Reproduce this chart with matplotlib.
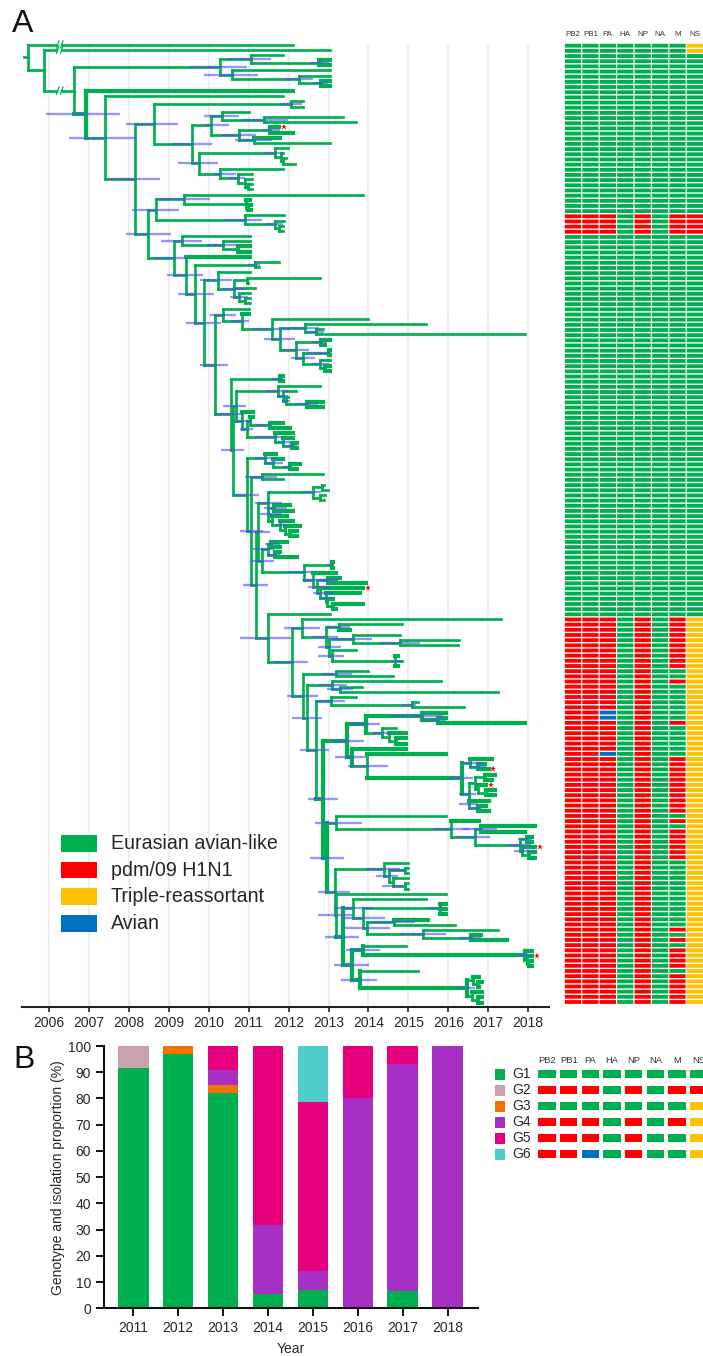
import matplotlib
matplotlib.use("Agg")
import matplotlib.pyplot as plt
from matplotlib.patches import Rectangle

plt.rcParams["font.family"] = ["Liberation Sans", "DejaVu Sans"]

W, H = 703, 1356
GREEN = "#00b050"
RED = "#ff0000"
YELLOW = "#ffc000"
BLUE = "#0070c0"
TEXT = "#262626"

# tree: node = [time, ci_low, ci_high, child, child...], leaf = tip time
N = None


def b(n):  # thick branch
    return {"n": n, "thick": True}


def s(n):  # thick tip with a star
    return {"n": n, "thick": True, "star": True}


c_early = [2010.28, 2009.53, 2010.97,
           [2011.05, 2010.47, 2011.56, 2011.85,
            [2012.77, 2012.53, 2013.02, b(2013.03), b(2013.03)]],
           [2010.58, 2009.89, 2011.23, 2013.03,
            [2012.26, 2011.88, 2012.62, 2013.03,
             [2012.80, 2012.62, 2012.99, b(2013.03), b(2013.03)]]]]

c_632 = [2010.05, 2009.89, 2010.5,
         [2010.33, 2009.88, 2010.77, 2011.01,
          [2011.39, 2010.84, 2011.99, 2013.37, 2013.69]],
         [2010.76, 2010.33, 2011.18,
          [2011.53, 2011.37, 2011.78, s(2011.77), b(2012.12)],
          [2011.13, 2010.66, 2011.58, b(2011.78), 2013.03]]]

c_597 = [2009.76, 2009.23, 2010.22,
         [2011.66, 2011.39, 2011.87, 2011.98,
          [2011.81, N, N, 2011.87, [2011.87, N, N, 2011.93, 2012.16]]],
         [2010.27, 2010.12, 2010.68, 2011.87,
          [2010.74, 2010.49, 2010.91, 2011.09,
           [2010.91, N, N, 2011.08, [2010.99, N, N, 2011.09, 2011.09]]]]]

c_460 = [2008.62, 2007.93, 2009.24,
         [2012.07, 2011.78, 2012.33, 2012.37, 2012.37],
         [2009.59, 2009.08, 2010.08, c_632, c_597]]

c_467 = [2008.68, 2008.09, 2009.25,
         [2009.37, 2008.74, 2010.02, 2013.87,
          [2010.93, N, N, b(2011.03), [2010.98, N, N, b(2011.05), b(2011.05)]]],
         [2010.91, 2010.38, 2011.34, 2011.89,
          [2011.66, 2011.43, 2011.87, 2011.89,
           [2011.77, N, N, 2011.87, 2011.87]]]]

c_652 = [2010.22, 2009.77, 2010.59, 2011.03,
         [2010.64, 2010.33, 2010.95,
          [2010.95, N, N, 2012.78, 2010.99],
          2011.17,
          [2010.77, 2010.53, 2010.99, 2011.03,
           [2010.91, N, N, 2011.03, 2011.03]]]]

c_z9 = [2010.36, 2010.04, 2010.69, 2011.0,
        [2010.83, 2010.53, 2011.0, b(2011.0),
         [2011.58, 2011.08, 2012.04, 2014.0,
          [2011.78, 2011.38, 2012.15,
           [2012.4, 2012.0, 2012.75, 2015.43,
            [2012.69, 2012.46, 2012.88, 2012.86, 2017.92]],
           [2012.18, 2011.83, 2012.5,
            [2012.82, 2012.58, 2012.96, b(2013.03), b(2012.92)],
            [2012.36, 2012.06, 2012.67,
             [2013.0, 2012.46, 2013.0, b(2013.04), b(2013.04)],
             [2012.79, 2012.58, 2013.0, 2013.03,
              [2012.92, N, N, b(2013.04), b(2013.04)]]]]]]]]

c_F = [2011.74, 2011.43, 2011.99, 2012.78,
       [2011.85, 2011.72, 2011.99, 2012.18,
        [2011.93, 2011.83, 2012.03, 2011.99,
         [2012.45, 2012.16, 2012.74, b(2012.85), b(2012.85)]]]]

c_G = [2010.83, 2010.58, 2011.09, b(2011.12),
       [2010.95, 2010.78, 2011.12,
        [2011.03, N, N, b(2011.12),
         [2011.53, 2011.16, 2011.58, b(2011.87), b(2012.03)]],
        [2011.66, 2011.16, 2011.87, b(2012.12),
         [2011.87, 2011.72, 2012.03, b(2012.12),
          [2012.08, 2011.91, 2012.2, b(2012.2), b(2012.2)]]]]]

c_L = [2011.41, 2011.16, 2011.7, b(2011.68),
       [2011.62, 2011.41, 2011.85, b(2011.87),
        [2012.03, 2011.85, 2012.03, b(2012.28), b(2012.2)]]]

c_T = [2011.49, 2011.16, 2011.83,
       [2012.62, 2012.35, 2012.8,
        [2012.83, N, N, 2012.88, 2012.99],
        [2012.78, N, N, 2012.91, 2012.89]],
       [2011.49, 2011.28, 2011.83,
        [2011.63, 2011.38, 2011.95, b(2012.03), b(2012.12)],
        [2011.58, N, N, b(2011.95),
         [2011.78, 2011.66, 2011.95, b(2012.12),
          [2011.91, N, N, b(2012.28),
           [2012.03, N, N, b(2012.2), b(2012.2)]]]]]]

c_U = [2011.33, 2011.03, 2011.63,
       [2011.49, 2011.12, 2011.63,
        [2011.55, 2011.41, 2011.78, b(2011.95), b(2011.78)],
        [2011.66, 2011.45, 2011.78, b(2011.78), b(2012.2)]],
       [2012.38, 2011.97, 2012.62,
        [2013.08, 2012.95, 2013.12, b(2013.12), b(2013.12)],
        [2012.62, 2012.33, 2013.24, b(2013.2),
         [2012.7, 2012.49, 2013.03,
          [2012.99, 2012.78, 2013.24, b(2013.28), b(2013.95)],
          [2012.78, 2012.62, 2013.12, s(2013.87),
           [2012.93, 2012.78, 2013.12, b(2013.78),
            [2012.97, N, N, b(2013.12),
             [2013.1, N, N, b(2013.87), b(2013.2)]]]]]]]]

c_305 = [2012.33, 2011.88, 2012.78, 2017.33,
         [2012.93, 2012.58, 2013.24,
          [2013.27, 2012.95, 2013.53, 2014.85, b(2013.53)],
          [2013.02, 2012.73, 2013.32,
           [2013.62, 2013.08, 2014.08, 2014.78,
            [2014.78, 2014.28, 2015.28, 2016.28, 2016.24]],
           [2013.08, 2012.73, 2013.38, 2013.7,
            [2014.67, 2014.55, 2014.85, b(2014.73), 2014.85, b(2014.73)]]]]]

c_407 = b([2013.93, 2013.53, 2014.28,
           b([2015.35, 2014.59, 2015.87, b(2015.93),
              b([2015.74, 2015.35, 2015.93, b(2015.93), b(2017.93)])]),
           [2014.35, 2014.12, 2014.62, 2014.7,
            [2014.52, N, N, b(2014.93),
             [2014.68, N, N, b(2014.93), b(2014.93)]]]])

c_698 = b([2016.35, 2016.03, 2016.63,
           [2016.55, 2016.35, 2016.87, b(2017.1),
            [2016.74, 2016.53, 2016.95, b(2016.93), s(2017.02)]],
           [2016.52, 2016.28, 2016.7,
            [2016.66, N, N,
             [2016.91, N, N, b(2017.18), b(2017.1)],
             [2016.74, N, N, s(2016.95),
              [2016.95, N, N, b(2017.18), b(2017.18)]]],
            [2016.53, 2016.28, 2016.74, b(2017.02),
             [2016.74, 2016.53, 2016.85, b(2016.95), b(2017.02)]]]])

c_352 = b([2013.47, 2013.03, 2013.89, c_407,
           b([2013.6, 2013.16, 2013.95, b(2014.93),
              [2013.97, 2013.49, 2014.49, b(2015.95), c_698]])])

c_318 = [2013.18, 2012.67, 2013.83, 2015.95,
         [2016.08, 2015.62, 2016.53, b(2016.78),
          [2016.66, 2016.2, 2017.05,
           [2016.83, 2016.37, 2017.22, b(2018.18), b(2017.93)],
           [2017.8, 2017.49, 2018.08,
            [2017.97, 2017.75, 2018.1, b(2018.1), b(2018.1)],
            [2017.85, 2017.64, 2018.16, s(2018.18),
             [2018.03, N, N, b(2018.18), b(2018.18)]]]]]]

c_462 = [2014.38, 2013.95, 2014.78, 2014.98,
         [2014.52, 2014.18, 2014.74,
          [2014.91, 2014.49, 2014.91, 2014.98, 2014.98],
          [2014.62, N, N, 2014.98,
           [2014.91, 2014.33, 2014.87, 2014.98, 2014.98]]]]

c_370 = [2013.62, 2013.13, 2014.13, 2015.45,
         [2013.87, 2013.31, 2014.41,
          [2015.78, 2015.5, 2015.87, b(2015.93),
           [2015.8, N, N, b(2015.93), b(2015.93)]],
          [2013.97, 2013.41, 2014.55,
           [2014.63, 2014.06, 2015.16, b(2015.49), 2016.16],
           [2015.37, 2014.78, 2015.95, 2017.24,
            [2016.58, 2016.28, 2016.83, b(2016.83), b(2017.48)]]]]]

c_365 = b([2013.58, 2013.13, 2014.01,
           b([2013.87, 2013.43, 2014.3, 2014.93,
              b([2017.93, 2017.74, 2018.12, b(2018.1),
                 [2017.97, N, N, s(2018.1),
                  [2018.03, N, N, b(2018.1), b(2018.1)]]])]),
           b([2013.78, 2013.31, 2014.22, 2015.24,
              b([2016.47, 2016.24, 2016.68,
                 [2016.62, N, N, b(2016.77),
                  [2016.74, N, N, b(2016.85), b(2016.77)]],
                 [2016.6, N, N, b(2016.85),
                  [2016.74, N, N, b(2016.85), b(2016.85)]]])])])

c_340 = b([2013.37, 2012.91, 2013.77, c_370, c_365])

c_292 = b([2012.97, 2012.53, 2013.38, c_318,
           [2013.16, 2012.73, 2013.53, c_462,
            [2013.18, 2012.74, 2013.58, 2015.95, c_340]]])

c_Z = [2012.35, 2011.95, 2012.74,
       [2013.2, 2012.8, 2013.6, 2013.98, 2014.62],
       [2012.47, 2012.08, 2012.83,
        [2013.08, 2012.74, 2013.47, 2015.81,
         [2013.28, 2012.97, 2013.62, 2013.84, 2017.24]],
        [2012.68, 2012.28, 2013.02,
         [2013.05, 2012.66, 2013.41, 2013.7,
          [2015.08, 2014.83, 2015.2, 2015.23, 2016.39]],
         b([2012.85, 2012.48, 2013.24, c_352, c_292])]]]

c_X = [2011.49, 2010.78, 2012.05, 2013.03,
       [2012.08, 2011.63, 2012.49, c_305, c_Z]]

c_E = [2010.95, 2010.64, 2011.26, c_L,
       [2011.05, 2010.78, 2011.37,
        [2011.33, 2010.91, 2011.7, 2012.85, 2011.87],
        [2011.18, 2010.87, 2011.49,
         [2011.24, 2010.95, 2011.53, c_T, c_U],
         c_X]]]

c_A = [2010.55, 2010.16, 2010.87,
       [2011.78, 2011.58, 2011.87, b(2011.87), b(2011.87)],
       [2010.62, 2010.3, 2010.89,
        [2010.68, 2010.35, 2010.93, c_F, c_G],
        c_E]]

c_585 = [2009.66, 2009.23, 2010.14,
         [2011.16, 2010.98, 2011.28, 2011.77, 2011.27],
         [2009.87, 2009.42, 2010.3, c_652,
          [2010.16, 2009.78, 2010.49, c_z9, c_A]]]

c_520 = [2009.12, 2008.6, 2009.49,
         [2009.33, 2008.81, 2009.84, 2011.03,
          [2010.37, 2009.95, 2010.74, 2011.03,
           [2010.74, N, N, b(2011.03), b(2011.03)]]],
         [2009.43, 2008.95, 2009.85, b(2011.03), c_585]]

tree = [2005.47, N, N, 2012.12,
        [2005.87, N, N, 2013.03,
         [2006.62, N, N, c_early,
          b([2006.93, 2005.93, 2007.78, b(2012.12),
             [2007.39, 2006.51, 2008.2, 2011.85,
              [2008.16, 2007.49, 2008.77, c_460,
               [2008.49, 2007.93, 2009.06, c_467, c_520]]]])]]]

years_a = list(range(2006, 2019))
break_time = 2006.27
break_rows = [0, 1, 8.9]

# segments, top heat map
segments = ["PB2", "PB1", "PA", "HA", "NP", "NA", "M", "NS"]
n_rows = 186
pdm_block_1 = [33, 34, 35, 36]
pdm_block_2 = list(range(111, 186))
ns_triple_top = [0, 1]
m_avian_like = [121, 122, 124, 125, 126, 127, 128, 129, 130, 132, 133, 134, 135,
                136, 137, 149, 151, 158, 159, 160, 161, 162, 163, 164, 165, 166,
                167, 168, 169, 170, 172, 174, 179]
pa_avian = [129, 130, 137]

# panel B
bar_years = [2011, 2012, 2013, 2014, 2015, 2016, 2017, 2018]
genotypes = ["G1", "G2", "G3", "G4", "G5", "G6"]
g1 = [91.7, 97.0, 82.0, 5.3, 7.1, 0, 6.7, 0]
g2 = [8.3, 0, 0, 0, 0, 0, 0, 0]
g3 = [0, 3.0, 3.0, 0, 0, 0, 0, 0]
g4 = [0, 0, 6.0, 26.3, 7.2, 80.0, 86.6, 100.0]
g5 = [0, 0, 9.0, 68.4, 64.2, 20.0, 6.7, 0]
g6 = [0, 0, 0, 0, 21.4, 0, 0, 0]
g_colors = ["#00b050", "#c9a3ab", "#f57200", "#a82fc4", "#e6007e", "#50cccc"]

gen_table = [
    "GGGGGGGG",
    "RRRGRGRR",
    "GGGGGGGY",
    "RRRGRGRY",
    "RRRGRGGY",
    "RRBGRGGY",
]
seg_colors = {"G": GREEN, "R": RED, "Y": YELLOW, "B": BLUE}

legend_names = ["Eurasian avian-like", "pdm/09 H1N1", "Triple-reassortant", "Avian"]
legend_colors = [GREEN, RED, YELLOW, BLUE]

fig = plt.figure(figsize=(W / 100, H / 100), dpi=100)


def px_axes(x0, y0, x1, y1):
    return fig.add_axes([x0 / W, 1 - y1 / H, (x1 - x0) / W, (y1 - y0) / H])


# ---- layout of the tree
thin_h, thin_v, thick_h, thick_v, cis, stars = [], [], [], [], [], []
tip_count = [0]


def layout(node, parent_t):
    thick = False
    star = False
    if isinstance(node, dict):
        thick = node["thick"]
        star = node.get("star", False)
        node = node["n"]
    hs = thick_h if thick else thin_h
    vs = thick_v if thick else thin_v
    if not isinstance(node, list):
        y = tip_count[0]
        tip_count[0] += 1
        hs.append((y, parent_t, node))
        if star:
            stars.append((node + 0.11, y))
        return y
    t, lo, hi = node[:3]
    ys = [layout(k, t) for k in node[3:]]
    y = (ys[0] + ys[-1]) / 2
    vs.append((t, ys[0], ys[-1]))
    hs.append((y, parent_t, t))
    if lo is not None:
        cis.append((y, lo, hi))
    return y


layout(tree, 2005.38)
n_tips = tip_count[0]

first_px, last_px = 44.5, 1002.5
pitch = (last_px - first_px) / (n_tips - 1)
top_px, bot_px = 36, 1006.7

ax = px_axes(22, top_px, 549, bot_px)
ax.set_xlim(2006 + (22 - 49) / 39.93, 2006 + (549 - 49) / 39.93)
ax.set_ylim((bot_px - first_px) / pitch, (top_px - first_px) / pitch)
ax.vlines(years_a, (44 - first_px) / pitch, (bot_px - first_px) / pitch,
          color="#eeeeee", lw=1.6, zorder=1)

for hs, vs, lw in [(thin_h, thin_v, 1.95), (thick_h, thick_v, 3.0)]:
    ax.hlines([h[0] for h in hs], [h[1] for h in hs], [h[2] for h in hs],
              color=GREEN, lw=lw, zorder=2, capstyle="projecting")
    ax.vlines([v[0] for v in vs], [v[1] for v in vs], [v[2] for v in vs],
              color=GREEN, lw=lw, zorder=2, capstyle="projecting")

ax.hlines([c[0] for c in cis], [c[1] for c in cis], [c[2] for c in cis],
          color=(0.32, 0.32, 0.92), alpha=0.6, lw=1.7, zorder=3)
ax.plot([p[0] for p in stars], [p[1] for p in stars], ls="none", marker="*",
        color=RED, ms=4.6, mew=0, zorder=4)

# axis break marks
for row in break_rows:
    ax.plot([break_time, break_time], [row - 0.45, row + 0.45], color="white", lw=2.6, zorder=3)
    for dx in (-0.05, 0.05):
        ax.plot([break_time + dx - 0.03, break_time + dx + 0.03], [row + 0.7, row - 0.7],
                color=GREEN, lw=0.9, zorder=4)

for side in ("top", "left", "right"):
    ax.spines[side].set_visible(False)
ax.spines["bottom"].set_linewidth(1.5)
ax.spines["bottom"].set_color("#222222")
ax.set_yticks([])
ax.set_xticks(years_a)
ax.set_xticklabels([str(y) for y in years_a])
ax.tick_params(axis="x", length=3.6, width=1.2, labelsize=10, labelcolor=TEXT, pad=3, color="#222222")
ax.patch.set_alpha(0)

# ---- segment heat map
hx = px_axes(560, 25, 703, 1008)
hx.set_xlim((560 - 573) / 17.42, (703 - 573) / 17.42)
row_pitch = (1002 - 45.7) / (n_rows - 1)
hx.set_ylim((1008 - 45.7) / row_pitch, (25 - 45.7) / row_pitch)
hx.axis("off")
for col, seg in enumerate(segments):
    colors = [GREEN] * n_rows
    if seg in ("PB2", "PB1", "PA", "NP", "M", "NS"):
        for r in pdm_block_1:
            colors[r] = RED
    if seg in ("PB2", "PB1", "PA", "NP", "M"):
        for r in pdm_block_2:
            colors[r] = RED
    if seg == "NS":
        for r in ns_triple_top + pdm_block_2:
            colors[r] = YELLOW
    if seg == "M":
        for r in m_avian_like:
            colors[r] = GREEN
    if seg == "PA":
        for r in pa_avian:
            colors[r] = BLUE
    hx.bar([col] * n_rows, [0.74] * n_rows, bottom=[r - 0.37 for r in range(n_rows)],
           width=0.935, color=colors, linewidth=0, snap=False)
    hx.text(col, (34 - 45.7) / row_pitch, seg, ha="center", va="center", fontsize=5.8, color="#333333")

# ---- legend of lineages
for i, (name, col) in enumerate(zip(legend_names, legend_colors)):
    y0 = 835 + 26.7 * i
    fig.add_artist(Rectangle((60.7 / W, 1 - (y0 + 16.7) / H), 36 / W, 16.7 / H,
                             transform=fig.transFigure, color=col, lw=0))
    fig.text(110.7 / W, 1 - (y0 + 8.6) / H, name, fontsize=14.1, color=TEXT, ha="left", va="center")

fig.text(12 / W, 1 - 32 / H, "A", fontsize=23, color="#111111", ha="left", va="baseline")
fig.text(13 / W, 1 - 1068 / H, "B", fontsize=23, color="#111111", ha="left", va="baseline")

# ---- panel B
bx = px_axes(104, 1046, 478, 1308.3)
bottom = [0] * len(bar_years)
for vals, col in zip([g1, g2, g3, g4, g5, g6], g_colors):
    bx.bar(range(len(bar_years)), vals, bottom=bottom, width=0.68, color=col, linewidth=0)
    bottom = [a + v for a, v in zip(bottom, vals)]
bx.set_xlim((104 - 133.3) / 44.9, (478 - 133.3) / 44.9)
bx.set_ylim(0, 100)
bx.set_yticks(range(0, 101, 10))
bx.set_xticks(range(len(bar_years)))
bx.set_xticklabels(bar_years)
for side in ("top", "right"):
    bx.spines[side].set_visible(False)
for side in ("left", "bottom"):
    bx.spines[side].set_linewidth(1.5)
    bx.spines[side].set_color("#111111")
bx.tick_params(length=5.8, width=1.4, labelsize=10, labelcolor=TEXT, color="#111111", pad=3.5)
bx.set_xlabel("Year", fontsize=10, color=TEXT, labelpad=5)
bx.set_ylabel("Genotype and isolation proportion (%)", fontsize=10, color=TEXT, labelpad=2)

# ---- genotype table
gx = px_axes(490, 1050, 703, 1164)
gx.set_xlim((490 - 547) / 21.67, (703 - 547) / 21.67)
gx.set_ylim((1164 - 1074.3) / 16, (1050 - 1074.3) / 16)
gx.axis("off")
for r, (name, row) in enumerate(zip(genotypes, gen_table)):
    gx.bar(-2.17, 0.67, bottom=r - 0.335, width=0.49, color=g_colors[r], linewidth=0)
    gx.text(-1.59, r, name, fontsize=10, color=TEXT, ha="left", va="center")
    for col, code in enumerate(row):
        gx.bar(col, 0.5, bottom=r - 0.25, width=0.8, color=seg_colors[code], linewidth=0)
for col, seg in enumerate(segments):
    gx.text(col, -0.89, seg, fontsize=6.75, color="#333333", ha="center", va="center")

fig.savefig("out.png", dpi=100)
